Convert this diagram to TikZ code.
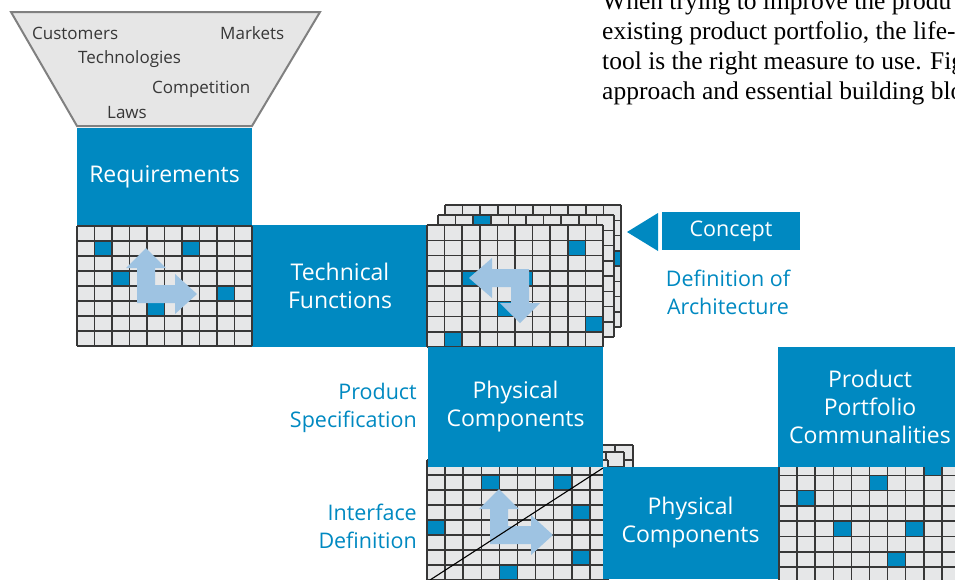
\documentclass[tikz,border=0pt]{standalone}
\usepackage{fontspec}
\setmainfont{Open Sans}
\newfontfamily\bodyserif{Liberation Serif}

\definecolor{boxblue}{RGB}{0,137,193}
\definecolor{arrowblue}{RGB}{158,195,226}
\definecolor{cellgray}{RGB}{230,231,232}
\definecolor{gridgray}{RGB}{55,55,55}
\definecolor{funnelfill}{RGB}{230,230,230}
\definecolor{funneledge}{RGB}{128,128,128}
\definecolor{inkgray}{RGB}{55,55,55}

\tikzset{
  bluebox/.style={fill=boxblue, text=white, inner sep=0pt, align=center,
    font=\fontsize{23}{28}\selectfont},
  bluelabel/.style={text=boxblue, inner sep=0pt, font=\fontsize{21.5}{28}\selectfont},
  funneltext/.style={text=inkgray, inner sep=0pt, anchor=base west,
    font=\fontsize{17}{20}\selectfont},
  bodyline/.style={anchor=base west, inner sep=0pt,
    font=\bodyserif\fontsize{25.5}{30}\selectfont},
  gridline/.style={draw=gridgray, line width=1.5pt},
  blockarrow/.style={fill=arrowblue},
  diagline/.style={draw=black, line width=1.1pt},
}

% a 10 x 8 matrix of cells: origin x, origin y, cell width, cell height, filled cells
\newcommand\cellpanel[5]{%
  \begin{scope}[shift={(#1,#2)}]
    \fill[cellgray] (0,0) rectangle (10*#3,8*#4);
    \foreach \c/\r in {#5} {\fill[boxblue] (\c*#3,\r*#4) rectangle ++(#3,#4);}
    \foreach \i in {0,...,10} {\draw[gridline] (\i*#3,0) -- (\i*#3,8*#4);}
    \foreach \j in {0,...,8} {\draw[gridline] (0,\j*#4) -- (10*#3,\j*#4);}
  \end{scope}}

\begin{document}
\begin{tikzpicture}[x=1pt,y=-1pt]
\useasboundingbox (0,0) rectangle (955,579);
\clip (0,0) rectangle (955,579);

% running text of the page
\node[bodyline] (line1) at (602,9) {When trying to improve the produ};
\node[bodyline] (line2) at (602,39.5) {existing product portfolio, the life-};
\node[bodyline] (line3) at (602,69.5) {tool is the right measure to use. Fig};
\node[bodyline] (line4) at (602,99.5) {approach and essential building blo};

% input funnel
\draw[fill=funnelfill, draw=funneledge, line width=2pt]
  (11,12) -- (320,12) -- (252,126) -- (77,126) -- cycle;
\node[funneltext] (customers) at (32,39) {Customers};
\node[funneltext] (markets) at (220,39) {Markets};
\node[funneltext] (technologies) at (78,63) {Technologies};
\node[funneltext] (competition) at (152,93) {Competition};
\node[funneltext] (laws) at (107,118) {Laws};

% headings of the first two matrices
\node[bluebox, minimum width=175pt, minimum height=98pt] (req) at (164.5,176.5) {Requirements};
\node[bluebox, minimum width=176pt, minimum height=122pt] (techfn) at (340,286) {Technical\\Functions};

% requirements matrix
\cellpanel{77}{226}{17.5}{15}{1/1,6/1,2/3,8/4,4/5}
\fill[blockarrow] (137,303) -- (137,268) -- (126,268) -- (146,248) -- (166,268) -- (155,268)
  -- (155,285) -- (175,285) -- (175,274) -- (197,294) -- (175,314) -- (175,303) -- cycle;

% stack of function matrices
\cellpanel{445}{205}{17.6}{15.25}{9/3}
\cellpanel{438}{215}{17.6}{15.25}{2/0}
\cellpanel{427}{225}{17.6}{15.25}{8/1,2/3,5/3,4/5,9/6,1/7}
\fill[blockarrow] (529,269) -- (529,303) -- (540,303) -- (520,323) -- (500,303) -- (511,303)
  -- (511,287) -- (492,287) -- (492,298) -- (469,278) -- (492,258) -- (492,269) -- cycle;

% stack of component matrices
\cellpanel{452}{445}{18.1}{15}{0/7}
\cellpanel{443}{452}{18.1}{15}{0/7}
\cellpanel{427}{460}{18.1}{15}{3/1,7/1,8/3,0/4,8/6,4/7}
\fill[blockarrow] (490,544) -- (490,509) -- (479,509) -- (499,489) -- (519,509) -- (508,509)
  -- (508,526) -- (531,526) -- (531,515) -- (553,535) -- (531,555) -- (531,544) -- cycle;
\coordinate (diagA) at (430,580);
\coordinate (diagB) at (603,468);
\draw[diagline] (diagA) -- (diagB);

% portfolio matrix
\cellpanel{779}{460}{18.1}{15.3}{8/0,5/1,1/2,3/4,7/4,6/6}

\node[bluebox, minimum width=175pt, minimum height=120pt] (phys1) at (515.5,407) {Physical\\Components};
\node[bluebox, minimum width=175pt, minimum height=112pt] (phys2) at (690.5,523) {Physical\\Components};
\node[bluebox, minimum width=184pt, minimum height=120pt] (portfolio) at (870,407) {Product\\Portfolio\\Communalities};

% concept pointer
\node[bluebox, minimum width=138pt, minimum height=38pt, font=\fontsize{21.5}{26}\selectfont] (concept) at (731,231) {Concept};
\fill[boxblue] (627,232) -- (658,213) -- (658,251) -- cycle;

% side labels
\node[bluelabel, align=center] (archdef) at (728,292) {Definition of\\Architecture};
\node[bluelabel, align=right, anchor=east] (prodspec) at (417,408) {Product\\Specification};
\node[bluelabel, align=right, anchor=east] (ifdef) at (417,526) {Interface\\Definition};
\end{tikzpicture}
\end{document}
